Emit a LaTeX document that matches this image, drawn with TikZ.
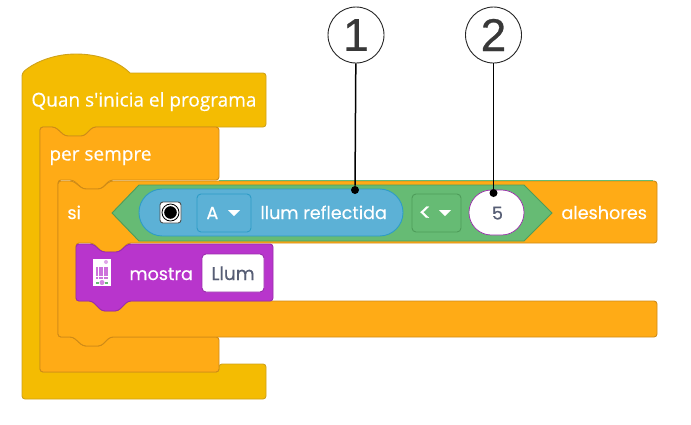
\documentclass[tikz,border=0pt]{standalone}
\usepackage{fontspec}
\newfontfamily\blockfont[FakeBold=0.35]{Open Sans}
\newfontfamily\roundfont[FakeBold=0.25]{Poppins}
\newfontfamily\numfont[FakeBold=0.6]{Liberation Sans}
\usepackage{xcolor}
\usepackage{tikz}
\definecolor{blockyellow}{HTML}{F4BC02}
\definecolor{edgeyellow}{HTML}{CFA21A}
\definecolor{blockorange}{HTML}{FFAB16}
\definecolor{edgeorange}{HTML}{CF8B17}
\definecolor{blockgreen}{HTML}{66BB74}
\definecolor{edgegreen}{HTML}{4E9C5A}
\definecolor{blockblue}{HTML}{5CB1D6}
\definecolor{edgeblue}{HTML}{2E9CC6}
\definecolor{blockpurple}{HTML}{B835CC}
\definecolor{edgepurple}{HTML}{9A2DAB}
\definecolor{valuegrey}{HTML}{575E75}

\begin{document}
\begin{tikzpicture}
            [
                x=1pt, y=-1pt,
                line width=0.9pt
            ]
            \tikzset{
                yellowpart/.style = {fill=blockyellow, draw=edgeyellow, rounded corners=3pt},
                orangepart/.style = {fill=blockorange, draw=edgeorange, rounded corners=3pt},
                purplepart/.style = {fill=blockpurple, draw=edgepurple, rounded corners=3pt},
                blocktext/.style = {text=white, inner sep=0pt, anchor=base west, font=\blockfont\fontsize{19}{20}\selectfont},
                roundtext/.style = {text=white, inner sep=0pt, anchor=base west, font=\roundfont\fontsize{17.6}{20}\selectfont},
                menubox/.style = {rectangle, rounded corners=4pt, minimum height=38pt, inner sep=0pt},
                callout/.style = {circle, draw=black!85, fill=white, minimum size=56pt, inner sep=0pt, text=black!78, font=\numfont\fontsize{46}{46}\selectfont},
                tipdot/.style = {circle, fill=black, minimum size=8pt, inner sep=0pt},
                menutri/.style = {fill=white, draw=none}
            }
            \useasboundingbox (0,0) rectangle (691,424);
            % when program starts
            \draw[yellowpart] [sharp corners] (22,73) .. controls (36,61) and (56,54) .. (76,54) .. controls (98,54) and (118,61) .. (130,73)
                [rounded corners=3pt] -- (266,73) -- (266,127) -- (93,127) -- (84,136) -- (65,136) -- (55,127) -- (40,127)
                -- (40,372) -- (219,372) -- (219,364) -- (266,364) -- (266,399) -- (22,399) -- cycle;
            % forever
            \draw[orangepart] (40,127) -- (55,127) -- (65,136) -- (84,136) -- (93,127) -- (219,127) -- (219,180)
                -- (110,180) -- (101,189) -- (83,189) -- (73,180) -- (58,180) -- (58,337) -- (73,337) -- (83,346) -- (101,346) -- (110,337)
                -- (219,337) -- (219,372) -- (40,372) -- cycle;
            % if block
            \draw[orangepart] (58,181) -- (73,181) -- (83,189) -- (101,189) -- (110,181) -- (657,181) -- (657,243)
                -- (128,243) -- (119,252) -- (102,252) -- (93,243) -- (76,243) -- (76,301) -- (92,301) -- (102,311) -- (118,311) -- (128,301)
                -- (657,301) -- (657,337) -- (110,337) -- (101,346) -- (83,346) -- (73,337) -- (58,337) -- cycle;
            \draw[blockgreen] (219,180.6) -- (653,180.6);
            % display block
            \draw[purplepart] (76,244) -- (93,244) -- (102,252) -- (119,252) -- (128,244) -- (273,244) -- (273,301)
                -- (128,301) -- (118,311) -- (102,311) -- (92,301) -- (76,301) -- cycle;
            % condition
            \draw[fill=blockgreen, draw=edgegreen] (112,213) -- (139,185) -- (524,185) -- (552,213) -- (524,241) -- (139,241) -- cycle;
            \node[fill=blockblue, draw=edgeblue, rounded corners=23.4pt, minimum width=264pt, minimum height=47pt, inner sep=0pt] (sensor) at (271,212.5) {};
            \node[fill=white, draw=black!70, rounded corners=3pt, minimum size=21pt, inner sep=0pt] (icon) at (170.5,212.5) {};
            \node[circle, fill=black, draw=white, line width=1.2pt, minimum size=14pt, inner sep=0pt] (iconring) at (icon) {};
            \draw[black, line width=0.8pt] (icon) circle (8.5pt);
            \node[menubox, draw=edgeblue, minimum width=54pt] (portmenu) at (224,213) {};
            \node[roundtext] (portlabel) at (206,219) {A};
            \draw[menutri] (228,210) -- (240,210) -- (234,216) -- cycle;
            \node[roundtext] (sensorlabel) at (260,219) {llum reflectida};
            \node[menubox, draw=edgegreen, minimum width=49pt] (opmenu) at (436.5,213) {};
            \node[roundtext, font=\roundfont\fontsize{24}{24}\selectfont] (oplabel) at (418,221) {<};
            \draw[menutri] (439,210) -- (451,210) -- (445,216) -- cycle;
            \node[fill=white, draw=edgepurple, line width=0.7pt, rounded corners=22.4pt, minimum width=55pt, minimum height=45pt, inner sep=0pt] (limit) at (496.5,212.5) {};
            \node[roundtext, text=valuegrey] (limitlabel) at (491.5,219.5) {5};
            % labels of the blocks
            \node[blocktext] (startlabel) at (31,106.5) {Quan s'inicia el programa};
            \node[blocktext] (foreverlabel) at (49,160.5) {per sempre};
            \node[roundtext] (iflabel) at (67,219) {si};
            \node[roundtext] (thenlabel) at (561,219) {aleshores};
            \node[roundtext] (showlabel) at (129,280) {mostra};
            \node[fill=white, draw=edgepurple, rounded corners=4pt, minimum width=62pt, minimum height=38pt, inner sep=0pt] (showvalue) at (233,273) {};
            \node[roundtext, text=valuegrey, font=\roundfont\fontsize{18.4}{20}\selectfont] (valuelabel) at (211,280) {Llum};
            % board icon
            \node[fill=white, minimum width=18pt, minimum height=27pt, inner sep=0pt] (board) at (102,272.5) {};
            \foreach \i in {0,...,4}
                \foreach \j in {0,...,4}
                    \fill[blockpurple!70] (96.3+2.4*\i,267+2.4*\j) rectangle +(2.1,2.1);
            \fill[blockpurple!60] (102,282.5) circle (2.5pt);
            \fill[blockgreen] (96,281.5) rectangle (99,283.5);
            \fill[blockgreen] (105,281.5) rectangle (108,283.5);
            \fill[blockpurple!45] (106,262) circle (2pt);
            % callouts
            \node[callout] (numA) at (356,35) {1};
            \node[callout] (numB) at (493.5,35) {2};
            \node[tipdot] (dotA) at (355,190) {};
            \node[tipdot] (dotB) at (493.5,193) {};
            \draw[black, line width=1.5pt] (numA) -- (dotA);
            \draw[black, line width=1.5pt] (numB) -- (dotB);
        \end{tikzpicture}
\end{document}
